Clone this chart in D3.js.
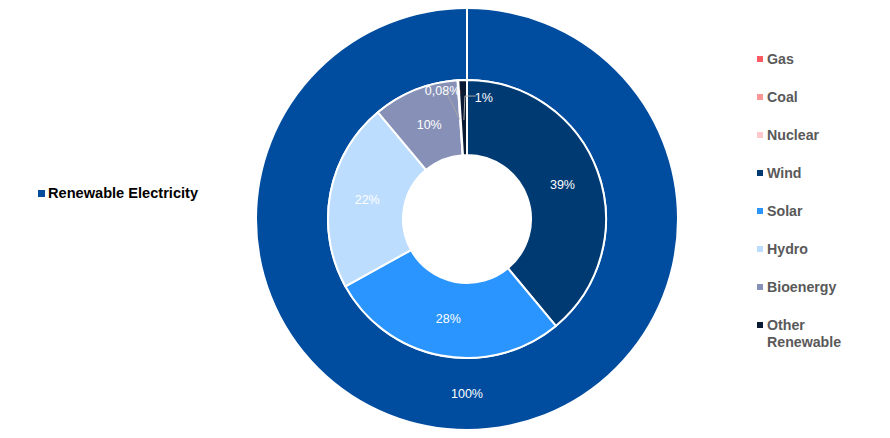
<!DOCTYPE html>
<html>
<head>
<meta charset="utf-8">
<title>Renewable Electricity</title>
<style>
	body { margin: 0; background: #fff; }
	svg text { font-family: "Liberation Sans", Arial, sans-serif; }
	.slabel { fill: #fff; font-size: 12.5px; text-anchor: middle; }
	.legend text { font-size: 14.2px; font-weight: bold; fill: #595959; }
	.outerLegend text { font-size: 14.6px; font-weight: bold; fill: #000; }
</style>
</head>
<body>
<svg id="chart" width="890" height="438"></svg>
<script src="https://cdn.jsdelivr.net/npm/d3@7"></script>
<script>

// outer ring
var outerCats = ['Renewable Electricity'];
var outerValues = [100];
var outerLabels = ['100%'];

// inner ring, in drawing order (clockwise from 12 o'clock)
var innerCats = ['Gas', 'Coal', 'Wind', 'Solar', 'Hydro', 'Bioenergy', 'Nuclear', 'Other Renewable'];
var innerValues = [0, 0, 39, 28, 22, 10, 0.08, 1];
var innerLabels = ['', '', '39%', '28%', '22%', '10%', '0,08%', '1%'];

// legend order
var legendCats = ['Gas', 'Coal', 'Nuclear', 'Wind', 'Solar', 'Hydro', 'Bioenergy', 'Other Renewable'];

var colors = {
	'Renewable Electricity': '#004C9F',
	'Gas': '#FF5A64',
	'Coal': '#FF9696',
	'Nuclear': '#FFC8CC',
	'Wind': '#003A73',
	'Solar': '#2B95FF',
	'Hydro': '#BDDDFF',
	'Bioenergy': '#8791B8',
	'Other Renewable': '#0A1A33'
};

var svg = d3.select('#chart');

var cx = 467, cy = 219,
	rHole = 64,
	rMid = 139,
	rOut = 211;

var g = svg.append('g').attr('transform', 'translate(' + cx + ',' + cy + ')');

var pie = d3.pie().sort(null).value(function(d) { return d.v; });

var outerData = pie(outerCats.map(function(c, i) { return {c: c, v: outerValues[i], l: outerLabels[i]}; }));
var innerData = pie(innerCats.map(function(c, i) { return {c: c, v: innerValues[i], l: innerLabels[i]}; }));

var outerArc = d3.arc().innerRadius(rMid).outerRadius(rOut);
var innerArc = d3.arc().innerRadius(rHole).outerRadius(rMid);

g.selectAll('.outer')
	.data(outerData)
	.enter()
	.append('path')
	.attr('class', 'outer')
	.attr('d', outerArc)
	.attr('fill', function(d) { return colors[d.data.c]; })
	.attr('stroke', '#fff')
	.attr('stroke-width', 2);

// white seam at 12 o'clock where the single outer slice starts/ends
g.append('line')
	.attr('x1', 0).attr('y1', -rMid)
	.attr('x2', 0).attr('y2', -rOut)
	.attr('stroke', '#fff')
	.attr('stroke-width', 2);

g.selectAll('.inner')
	.data(innerData.filter(function(d) { return d.data.v > 0; }))
	.enter()
	.append('path')
	.attr('class', 'inner')
	.attr('d', innerArc)
	.attr('fill', function(d) { return colors[d.data.c]; })
	.attr('stroke', '#fff')
	.attr('stroke-width', 2);

g.selectAll('.olabel')
	.data(outerData)
	.enter()
	.append('text')
	.attr('class', 'slabel')
	.attr('x', function(d) { return outerArc.centroid(d)[0]; })
	.attr('y', function(d) { return outerArc.centroid(d)[1] + 4; })
	.text(function(d) { return d.data.l; });

var big = innerData.filter(function(d) { return d.data.v >= 5; });
var small = innerData.filter(function(d) { return d.data.v > 0 && d.data.v < 5; });

g.selectAll('.ilabel')
	.data(big)
	.enter()
	.append('text')
	.attr('class', 'slabel')
	.attr('x', function(d) { return innerArc.centroid(d)[0]; })
	.attr('y', function(d) { return innerArc.centroid(d)[1] + 4; })
	.text(function(d) { return d.data.l; });

// tiny slices: labels pulled out with leader lines
var tip = d3.arc().innerRadius(rMid - 40).outerRadius(rMid - 40);
small.forEach(function(d, i) {
	var p = tip.centroid(d);
	var lx = i === 0 ? p[0] - 15 : p[0] + 20,
		ly = i === 0 ? p[1] - 24 : p[1] - 18;
	if (i === 0) {
		g.append('polyline')
			.attr('points', [[p[0] - 1, p[1] - 1], [lx - 2, ly - 10]].join(' '))
			.attr('fill', 'none').attr('stroke', '#A6A6A6').attr('stroke-width', 1);
		g.append('text').attr('class', 'slabel')
			.attr('x', lx - 3).attr('y', ly - 1)
			.text(d.data.l);
	} else {
		g.append('polyline')
			.attr('points', [[p[0], p[1]], [p[0] + 1, ly - 6], [lx - 8, ly - 6]].join(' '))
			.attr('fill', 'none').attr('stroke', '#A6A6A6').attr('stroke-width', 1);
		g.append('text').attr('class', 'slabel')
			.attr('x', lx).attr('y', ly)
			.text(d.data.l);
	}
});

// right legend
var legend = svg.append('g').attr('class', 'legend')
	.selectAll('g')
	.data(legendCats)
	.enter()
	.append('g')
	.attr('transform', function(d, i) { return 'translate(757,' + (59 + i * 38) + ')'; });

legend.append('rect')
	.attr('x', 0).attr('y', -3)
	.attr('width', 6).attr('height', 6)
	.attr('fill', function(d) { return colors[d]; });

legend.append('text')
	.attr('x', 10)
	.attr('y', 5)
	.each(function(d) {
		var words = d === 'Other Renewable' ? ['Other', 'Renewable'] : [d];
		var t = d3.select(this);
		words.forEach(function(w, j) {
			t.append('tspan').attr('x', 10).attr('dy', j === 0 ? 0 : 17).text(w);
		});
	});

// left legend (outer ring)
var ol = svg.append('g').attr('class', 'outerLegend')
	.selectAll('g')
	.data(outerCats)
	.enter()
	.append('g')
	.attr('transform', 'translate(38,193)');

ol.append('rect')
	.attr('x', 0).attr('y', -3)
	.attr('width', 7).attr('height', 7)
	.attr('fill', function(d) { return colors[d]; });

ol.append('text')
	.attr('x', 10).attr('y', 5)
	.text(function(d) { return d; });

</script>
</body>
</html>
